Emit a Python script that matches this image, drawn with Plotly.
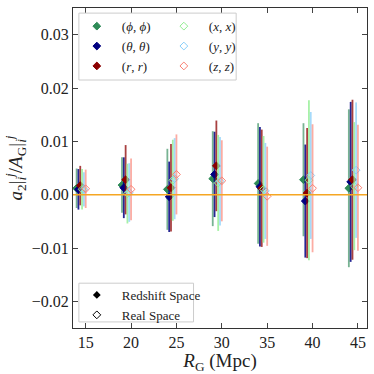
import plotly.graph_objects as go

# smoothing scales (Mpc)
R_G = [15, 20, 25, 30, 35, 40, 45]

# redshift space (filled markers)
phi_val = [0.0012, 0.0018, 0.0010, 0.0030, 0.0021, 0.0028, 0.0012]
phi_err = [0.0037, 0.0052, 0.0076, 0.0089, 0.0113, 0.0106, 0.0148]
theta_val = [0.0010, 0.0013, -0.0004, 0.0038, 0.0015, -0.0012, 0.0024]
theta_err = [0.0038, 0.0057, 0.0066, 0.0080, 0.0112, 0.0106, 0.0150]
r_val = [0.0017, 0.0028, 0.0013, 0.0054, 0.0012, 0.0003, 0.0028]
r_err = [0.0037, 0.0065, 0.0082, 0.0085, 0.0110, 0.0122, 0.0150]

# real space (open markers)
x_val = [0.0010, 0.0002, 0.0027, 0.0022, 0.0010, 0.0027, 0.0016]
x_err = [0.0038, 0.0056, 0.0076, 0.0090, 0.0100, 0.0150, 0.0120]
y_val = [0.0010, 0.0004, 0.0030, 0.0025, 0.0007, 0.0036, 0.0046]
y_err = [0.0032, 0.0055, 0.0076, 0.0083, 0.0090, 0.0119, 0.0127]
z_val = [0.0011, 0.0010, 0.0038, 0.0026, -0.0003, 0.0012, 0.0013]
z_err = [0.0036, 0.0058, 0.0075, 0.0076, 0.0093, 0.0120, 0.0118]

FONT = "Liberation Serif"

# (label, values, errors, x offset, colour, bar colour, symbol, legend)
series = [
    ("(<i>ϕ</i>, <i>ϕ</i>)", phi_val, phi_err, -1.0, "#2e8b57", "rgba(46,139,87,0.65)", "diamond", "legend"),
    ("(<i>θ</i>, <i>θ</i>)", theta_val, theta_err, -0.8, "#000080", "rgba(0,0,128,0.85)", "diamond", "legend"),
    ("(<i>r</i>, <i>r</i>)", r_val, r_err, -0.6, "#8b0000", "rgba(139,0,0,0.75)", "diamond", "legend"),
    ("(<i>x</i>, <i>x</i>)", x_val, x_err, -0.4, "#90ee90", "rgba(144,238,144,0.8)", "diamond-open", "legend2"),
    ("(<i>y</i>, <i>y</i>)", y_val, y_err, -0.2, "#87cefa", "rgba(135,206,250,0.75)", "diamond-open", "legend2"),
    ("(<i>z</i>, <i>z</i>)", z_val, z_err, 0.0, "#fa8072", "rgba(250,128,114,0.65)", "diamond-open", "legend2"),
]

fig = go.Figure()

for name, vals, errs, off, col, ecol, sym, leg in series:
    fig.add_trace(go.Scatter(
        x=[r + off for r in R_G],
        y=vals,
        mode="markers",
        name=name,
        legend=leg,
        marker=dict(symbol=sym, size=6, color=col, line=dict(color=col, width=1)),
        error_y=dict(type="data", array=errs, visible=True, color=ecol, thickness=1.8, width=0),
    ))

# dummy entries for the space legend
fig.add_trace(go.Scatter(x=[None], y=[None], mode="markers", name="Redshift Space", legend="legend3",
                         marker=dict(symbol="diamond", size=6, color="black")))
fig.add_trace(go.Scatter(x=[None], y=[None], mode="markers", name="Real Space", legend="legend3",
                         marker=dict(symbol="diamond-open", size=6, color="black", line=dict(color="black", width=1))))

fig.add_hline(y=0, line=dict(color="#f5a623", width=1.5))

# legend frames
fig.add_shape(type="rect", xref="paper", yref="paper", x0=0.02, x1=0.555, y0=0.775, y1=0.984,
              line=dict(color="#cccccc", width=1), fillcolor="rgba(255,255,255,0.8)", layer="above")
fig.add_shape(type="rect", xref="paper", yref="paper", x0=0.02, x1=0.41, y0=0.019, y1=0.14,
              line=dict(color="#cccccc", width=1), fillcolor="rgba(255,255,255,0.8)", layer="above")

leg_common = dict(bgcolor="rgba(0,0,0,0)", borderwidth=0, font=dict(family=FONT, size=13, color="#222"),
                  xanchor="left", yanchor="top", tracegroupgap=0, itemwidth=40)

fig.update_layout(
    width=374, height=374,
    margin=dict(l=73, r=7, t=8, b=46),
    plot_bgcolor="white", paper_bgcolor="white",
    font=dict(family=FONT, size=16, color="#222"),
    legend=dict(x=-0.004, y=0.99, **leg_common),
    legend2=dict(x=0.292, y=0.99, **leg_common),
    legend3=dict(x=-0.004, y=0.15, **leg_common),
    xaxis=dict(
        range=[13.6, 46], tickvals=R_G, ticks="inside", ticklen=5, showline=True, mirror="ticks",
        linecolor="#333", linewidth=1, showgrid=False, zeroline=False,
        title=dict(text="<i>R</i><sub>G</sub> (Mpc)", font=dict(size=19), standoff=2),
    ),
    yaxis=dict(
        range=[-0.025, 0.035], tickvals=[-0.02, -0.01, 0.0, 0.01, 0.02, 0.03], tickformat=".2f",
        ticks="inside", ticklen=5, showline=True, mirror="ticks",
        linecolor="#333", linewidth=1, showgrid=False, zeroline=False,
        title=dict(text="<i>a</i><sub>2</sub>|<sub><i>i</i></sub><sup><i>j</i></sup>/<i>A</i><sub>G</sub>|<sub><i>i</i></sub><sup><i>j</i></sup>",
                   font=dict(size=19), standoff=4),
    ),
)

fig.write_html("out.html", config={"displayModeBar": False},
               post_script="document.body.style.margin='0';")
